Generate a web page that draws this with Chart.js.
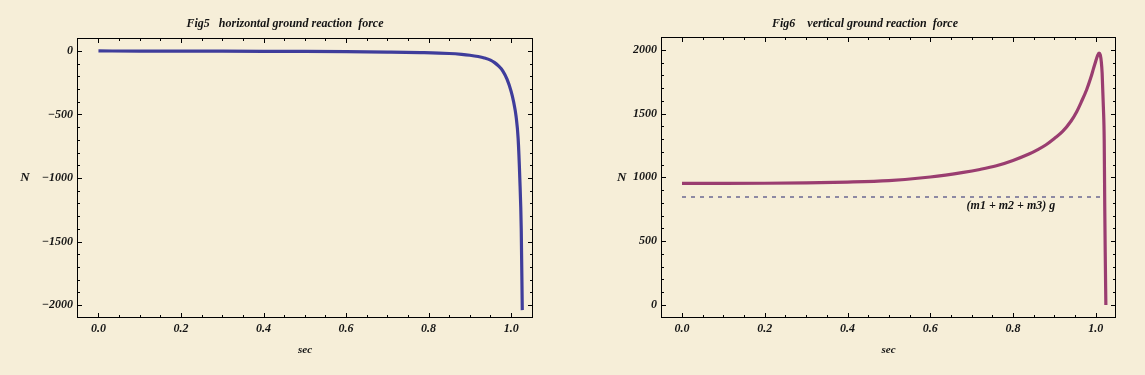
<!DOCTYPE html>
<html>
<head>
<meta charset="utf-8">
<script src="https://cdn.jsdelivr.net/npm/chart.js@4/dist/chart.umd.min.js"></script>
<style>
  html, body { margin: 0; padding: 0; background: #F6EED8; }
  body { width: 1145px; height: 375px; position: relative; overflow: hidden; }
  canvas { position: absolute; top: 0; }
</style>
</head>
<body>
<canvas id="c1" width="572" height="375" style="left:0px"></canvas>
<canvas id="c2" width="573" height="375" style="left:572px"></canvas>
<script>
// ---- data ----
const timeH  = [0, 0.1, 0.2, 0.3, 0.4, 0.5, 0.6, 0.7, 0.78, 0.85, 0.88, 0.9, 0.92, 0.935, 0.95, 0.96, 0.97, 0.98, 0.99, 1.0, 1.006, 1.012, 1.017, 1.021, 1.0245, 1.027];
const forceH = [0, -1, -1, -2, -3, -4, -6, -9, -13, -20, -27, -34, -44, -55, -72, -92, -120, -158, -222, -318, -400, -515, -690, -1000, -1400, -2040];

const timeV  = [0, 0.1, 0.2, 0.3, 0.4, 0.5, 0.6, 0.68, 0.72, 0.76, 0.8, 0.84, 0.86, 0.88, 0.9, 0.92, 0.94, 0.954, 0.965, 0.978, 0.988, 0.995, 1.0, 1.004, 1.008, 1.011, 1.0135, 1.0155, 1.0185, 1.0205, 1.0218, 1.023, 1.0245];
const forceV = [953, 953, 954, 957, 963, 975, 1003, 1039, 1062, 1091, 1133, 1185, 1218, 1256, 1305, 1360, 1440, 1515, 1590, 1687, 1780, 1857, 1910, 1950, 1974, 1960, 1905, 1817, 1550, 1295, 772, 400, 0];

const weightTime  = [0, 1.017];
const weightForce = [846, 846];
const weightLabel = "(m1 + m2 + m3) g";

const xTickLabels      = [0, 0.2, 0.4, 0.6, 0.8, 1.0];
const yTickLabelsLeft  = [0, -500, -1000, -1500, -2000];
const yTickLabelsRight = [0, 500, 1000, 1500, 2000];

const titleLeft  = "Fig5   horizontal ground reaction  force";
const titleRight = "Fig6    vertical ground reaction  force";
const xAxisTitle = "sec";
const yAxisTitle = "N";

// ---- styling ----
const FONT = "'Liberation Serif', 'DejaVu Serif', serif";
const TXT = '#141414';
const BLUE = '#3F3D9B';
const PURPLE = '#9A3D70';

function pts(xs, ys) { return xs.map((x, i) => ({ x: x, y: ys[i] })); }
function fmtY(v) { return v < 0 ? '\u2212' + Math.abs(v) : String(v); }

function framePlugin(opts) {
  return {
    id: 'frame' + opts.key,
    afterDraw(chart) {
      const ctx = chart.ctx;
      const a = chart.chartArea;
      const xs = chart.scales.x, ys = chart.scales.y;
      ctx.save();
      ctx.strokeStyle = '#000';
      ctx.lineWidth = 1;
      ctx.strokeRect(Math.round(a.left) + 0.5, Math.round(a.top) + 0.5,
                     Math.round(a.right - a.left) - 1, Math.round(a.bottom - a.top) - 1);
      ctx.beginPath();
      for (let k = 0; k <= 20; k++) {
        const v = k * 0.05;
        const len = (k % 4 === 0) ? 5 : 3;
        const px = Math.round(xs.getPixelForValue(v)) + 0.5;
        ctx.moveTo(px, a.bottom); ctx.lineTo(px, a.bottom - len);
        ctx.moveTo(px, a.top); ctx.lineTo(px, a.top + len);
      }
      for (let k = 0; k <= 20; k++) {
        const v = opts.ySign * k * 100;
        const len = (k % 5 === 0) ? 5 : 3;
        const py = Math.round(ys.getPixelForValue(v)) + 0.5;
        ctx.moveTo(a.left, py); ctx.lineTo(a.left + len, py);
        ctx.moveTo(a.right, py); ctx.lineTo(a.right - len, py);
      }
      ctx.stroke();

      ctx.fillStyle = TXT;
      ctx.textAlign = 'center';
      ctx.textBaseline = 'middle';
      ctx.font = 'italic bold 12px ' + FONT;
      ctx.fillText(opts.title, opts.titleX, 24);
      ctx.font = 'italic bold 13px ' + FONT;
      ctx.fillText(yAxisTitle, opts.nX, 178);
      ctx.font = 'italic bold 11px ' + FONT;
      ctx.fillText(xAxisTitle, (a.left + a.right) / 2, 350);
      if (opts.note) {
        ctx.font = 'italic bold 12px ' + FONT;
        ctx.fillText(opts.note.text, xs.getPixelForValue(opts.note.x), ys.getPixelForValue(opts.note.y));
      }
      ctx.restore();
    }
  };
}

function makeChart(id, cfg) {
  return new Chart(document.getElementById(id), {
    type: 'line',
    data: { datasets: cfg.datasets },
    options: {
      responsive: false,
      animation: false,
      devicePixelRatio: 1,
      layout: { padding: { left: 0, top: cfg.top, right: cfg.right, bottom: 0 } },
      plugins: { legend: { display: false }, tooltip: { enabled: false } },
      elements: { point: { radius: 0 } },
      scales: {
        x: {
          type: 'linear',
          min: cfg.xmin, max: cfg.xmax,
          grid: { display: false, drawTicks: false },
          border: { display: false },
          afterBuildTicks: s => { s.ticks = xTickLabels.map(v => ({ value: v })); },
          afterFit: s => { s.height = 57; },
          ticks: {
            padding: 4,
            color: TXT,
            font: { family: FONT, size: 12, style: 'italic', weight: 'bold' },
            maxRotation: 0,
            autoSkip: false,
            callback: v => Number(v).toFixed(1)
          }
        },
        y: {
          type: 'linear',
          min: cfg.ymin, max: cfg.ymax,
          grid: { display: false, drawTicks: false },
          border: { display: false },
          afterBuildTicks: s => { s.ticks = cfg.yTicks.map(v => ({ value: v })); },
          afterFit: s => { s.width = cfg.left; },
          ticks: {
            padding: 4,
            color: TXT,
            font: { family: FONT, size: 12, style: 'italic', weight: 'bold' },
            autoSkip: false,
            callback: v => fmtY(v)
          }
        }
      }
    },
    plugins: [cfg.plugin]
  });
}

makeChart('c1', {
  left: 77, top: 38, right: 39,
  xmin: -0.052, xmax: 1.053, ymin: -2102, ymax: 102,
  yTicks: yTickLabelsLeft,
  datasets: [{
    data: pts(timeH, forceH),
    borderColor: BLUE, borderWidth: 3.2,
    cubicInterpolationMode: 'monotone', fill: false
  }],
  plugin: framePlugin({ key: 'L', ySign: -1, title: titleLeft, titleX: 285, nX: 25 })
});

makeChart('c2', {
  left: 89, top: 37, right: 29,
  xmin: -0.0508, xmax: 1.049, ymin: -102, ymax: 2100,
  yTicks: yTickLabelsRight,
  datasets: [{
    data: pts(timeV, forceV),
    borderColor: PURPLE, borderWidth: 3.2,
    cubicInterpolationMode: 'monotone', fill: false
  }, {
    data: pts(weightTime, weightForce),
    borderColor: '#24246E', borderWidth: 1.2, borderDash: [4, 5], fill: false
  }],
  plugin: framePlugin({ key: 'R', ySign: 1, title: titleRight, titleX: 293, nX: 49.7,
                        note: { text: weightLabel, x: 0.795, y: 778 } })
});
</script>
</body>
</html>
